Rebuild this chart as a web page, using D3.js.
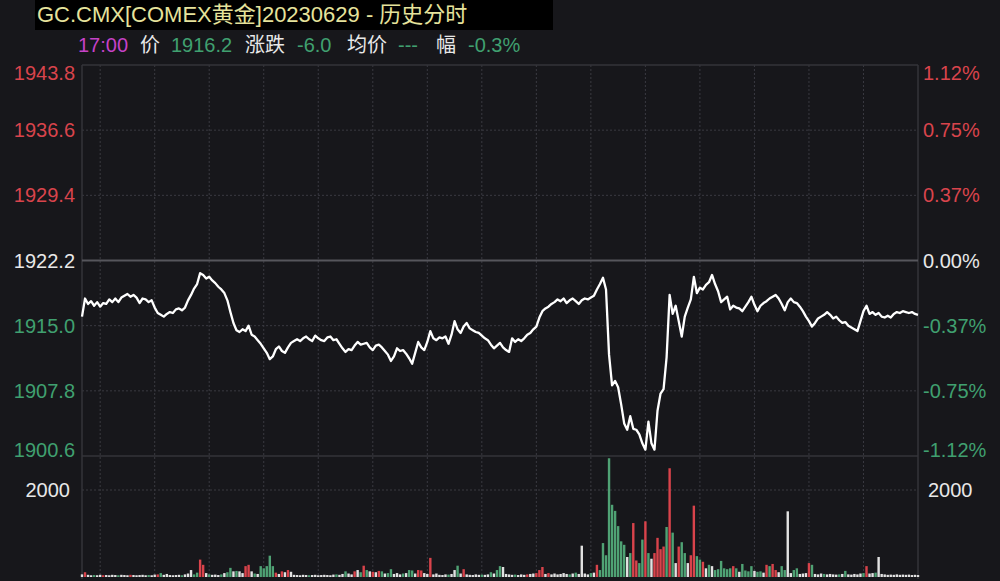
<!DOCTYPE html>
<html>
<head>
<meta charset="utf-8">
<script src="https://cdn.jsdelivr.net/npm/d3@7/dist/d3.min.js"></script>
<style>
  html, body { margin: 0; padding: 0; background: #17171b; }
  svg { display: block; }
  text { font-family: "Liberation Sans", Arial, "Noto Sans CJK SC", sans-serif; }
</style>
</head>
<body>
<svg id="chart" width="1000" height="581"></svg>
<script>
// ---------------- DATA ----------------
const titleText = "GC.CMX[COMEX黄金]20230629 - 历史分时";
const infoLabels = ["17:00", "价", "1916.2", "涨跌", "-6.0", "均价", "---", "幅", "-0.3%"];
const infoKinds  = ["time", "label", "down", "label", "down", "label", "down", "label", "down"];

const prevClose = 1922.2;
const priceTicks = [1943.8, 1936.6, 1929.4, 1922.2, 1915.0, 1907.8, 1900.6];
const pctLabels  = ["1.12%", "0.75%", "0.37%", "0.00%", "-0.37%", "-0.75%", "-1.12%"];
const volTicks = [2000];
const sessionMinutes = 1380;      // 23h session
const stepMinutes = 5;            // one point every 5 minutes
const timeGrid = [30, 120, 210, 300, 390, 480, 570, 660, 750, 840, 930, 1020, 1110, 1200, 1290];

const prices = [
1916.0,1918.0,1917.4,1917.7,1917.2,1917.6,1917.1,1917.5,1917.4,1917.9,1917.6,1918.0,1917.6,1918.1,1918.3,1918.5,1918.2,1918.4,1918.1,1917.5,
1918.0,1917.9,1917.6,1917.8,1917.0,1916.4,1916.2,1916.0,1916.3,1916.5,1916.4,1916.8,1916.9,1916.7,1917.0,1917.8,1918.4,1919.1,1919.6,1920.8,
1920.6,1920.2,1920.4,1920.0,1919.7,1919.3,1919.0,1918.6,1917.8,1916.5,1915.3,1914.5,1914.3,1914.6,1914.4,1915.0,1914.0,1913.8,1913.4,1913.0,
1912.5,1912.0,1911.3,1911.6,1912.4,1912.7,1912.2,1912.0,1912.6,1913.1,1913.3,1913.5,1913.3,1913.6,1913.8,1913.5,1913.3,1913.9,1913.6,1913.4,
1913.3,1913.7,1913.8,1913.4,1913.5,1913.0,1912.5,1912.1,1912.4,1912.3,1912.8,1913.2,1912.9,1913.0,1913.1,1912.6,1912.3,1912.8,1912.9,1912.6,
1912.2,1911.8,1911.1,1911.6,1912.5,1912.2,1912.3,1911.9,1911.4,1910.8,1912.0,1913.2,1912.6,1912.3,1913.2,1914.4,1913.6,1913.4,1913.7,1913.6,
1913.8,1913.0,1914.0,1915.5,1914.6,1914.2,1914.9,1915.3,1914.7,1914.5,1914.3,1914.2,1913.9,1913.6,1913.4,1912.9,1912.5,1912.8,1913.1,1912.6,
1912.3,1912.1,1913.6,1913.2,1913.5,1913.3,1913.6,1914.0,1914.2,1914.6,1914.9,1915.9,1916.6,1916.9,1917.1,1917.4,1917.6,1917.9,1917.7,1918.0,
1917.5,1917.8,1918.0,1917.7,1917.4,1917.8,1918.0,1917.9,1918.1,1918.3,1919.0,1919.6,1920.3,1919.0,1911.8,1908.4,1908.9,1908.2,1906.3,1904.2,
1903.5,1905.0,1903.6,1903.5,1903.0,1902.0,1901.3,1904.4,1902.0,1901.3,1905.6,1907.5,1908.0,1911.5,1918.4,1916.3,1917.2,1915.5,1913.8,1916.0,
1917.0,1917.9,1920.4,1918.6,1919.2,1919.0,1919.5,1919.8,1920.6,1919.6,1918.8,1917.6,1917.9,1918.2,1916.8,1917.2,1917.0,1916.9,1916.6,1917.1,
1917.6,1918.2,1917.3,1916.6,1917.2,1917.5,1917.7,1918.0,1918.2,1918.4,1918.0,1917.4,1916.7,1917.6,1918.0,1917.6,1917.5,1917.1,1916.6,1916.0,
1915.5,1914.9,1915.3,1915.8,1916.0,1916.2,1916.5,1916.2,1915.8,1916.0,1915.6,1915.3,1915.4,1915.0,1914.8,1914.6,1914.4,1915.5,1916.6,1917.2,
1916.3,1916.5,1916.2,1916.4,1916.0,1915.9,1916.1,1915.9,1916.3,1916.5,1916.4,1916.6,1916.5,1916.4,1916.5,1916.3,1916.2
];

const volumes = [
60,110,50,40,45,40,50,40,45,40,50,45,40,50,45,40,50,45,40,45,
50,40,45,40,55,60,90,50,70,45,40,45,50,40,60,80,160,60,100,400,
280,90,60,50,55,45,60,90,110,210,130,140,130,90,250,280,130,80,70,250,
200,250,490,250,100,70,130,110,160,120,50,45,40,50,45,40,45,50,40,45,
50,45,40,55,60,50,70,130,80,60,130,160,110,260,160,130,120,110,140,130,
80,90,180,70,90,60,80,90,160,150,80,160,150,90,70,440,60,80,50,45,
60,55,70,160,260,80,180,60,50,45,60,50,55,50,60,110,80,160,250,230,
70,60,50,55,45,60,50,60,70,80,90,160,230,70,90,60,80,60,70,90,
70,60,80,100,70,720,80,60,90,100,280,160,780,500,2730,1660,1520,1170,820,740,
460,550,1240,380,320,860,1280,550,420,550,900,640,700,1150,2500,1020,320,700,800,550,
320,500,1640,480,400,350,200,280,250,160,180,370,200,180,200,250,200,120,300,150,
130,250,140,120,130,100,280,250,300,160,110,250,160,1510,90,160,200,70,80,90,
320,280,70,60,80,70,60,70,60,55,60,70,140,60,55,70,60,80,90,250,
80,90,100,460,70,60,50,55,50,60,50,55,50,55,45,50,45
];

// r = up (red), g = down (green), w = unchanged (white)
const volColors = (
"wrwwgwwrwwwwgwwwrwww" +
"wwgwwrgwwwwwwgwwwggr" +
"rwgwwwgwggwgwwrrwgwg" +
"ggggrwrwrwwwwwwgwwww" +
"wwwwgwwgwwrwgrgwrwrg" +
"wggwwwgwggwrrwwrwwww" +
"wgwwgwrwwwwwgwwgwggw" +
"wwwgwwwrwwrrrwrwwwww" +
"wgwgwwwwgwrggggggggg" +
"wgrrggrgwrrrrgrgwrgg" +
"wrrggrwgwggggggrgwgg" +
"ggwggwrgrrwggwwggwww" +
"rgwwwgwwwwgwgwwwwwgr" +
"wwgwwwwwwwwwwwwww"
).split("");

// ---------------- STYLE ----------------
const C = {
  bg: "#17171b",
  border: "#34343a",
  grid: "#3a3a41",
  prev: "#56565c",
  red: "#d9444c",
  green: "#40a070",
  white: "#e8e8e8",
  title: "#e6e39c",
  magenta: "#c642c8",
  line: "#ffffff",
  volRed: "#d9434b",
  volGreen: "#4fa274",
  volWhite: "#e2e2e2"
};

const L = 82, R = 918, PT = 65, PB = 456, VB = 577;

const svg = d3.select("#chart");
svg.append("rect").attr("width", 1000).attr("height", 581).attr("fill", C.bg);

// header
svg.append("rect").attr("x", 35).attr("y", 0).attr("width", 518).attr("height", 30).attr("fill", "#000");
svg.append("text").attr("x", 37).attr("y", 22).attr("fill", C.title)
  .attr("font-size", 22).text(titleText);

const infoX = [78, 140, 171, 245, 297, 347, 398, 436, 468];
svg.selectAll("text.info").data(infoLabels).join("text")
  .attr("class", "info")
  .attr("x", (d, i) => infoX[i]).attr("y", 52)
  .attr("font-size", 20)
  .attr("fill", (d, i) => infoKinds[i] === "time" ? C.magenta : infoKinds[i] === "label" ? C.white : C.green)
  .text(d => d);

// scales
const x = d3.scaleLinear().domain([0, sessionMinutes]).range([L, R]);
const y = d3.scaleLinear().domain([priceTicks[priceTicks.length - 1], priceTicks[0]]).range([PB, PT]);
const yv = d3.scaleLinear().domain([0, 2000]).range([VB, 490]);

// vertical dotted grid
svg.append("g").selectAll("line").data(timeGrid).join("line")
  .attr("x1", d => x(d)).attr("x2", d => x(d))
  .attr("y1", PT).attr("y2", VB)
  .attr("stroke", C.grid).attr("stroke-width", 1).attr("stroke-dasharray", "2,2");

// horizontal price grid
svg.append("g").selectAll("line").data(priceTicks.filter(d => d !== prevClose && d !== priceTicks[0] && d !== priceTicks[priceTicks.length-1])).join("line")
  .attr("x1", L).attr("x2", R)
  .attr("y1", d => y(d)).attr("y2", d => y(d))
  .attr("stroke", C.grid).attr("stroke-width", 1).attr("stroke-dasharray", "2,2");

// volume grid
svg.append("g").selectAll("line").data(volTicks).join("line")
  .attr("x1", L).attr("x2", R)
  .attr("y1", d => yv(d)).attr("y2", d => yv(d))
  .attr("stroke", C.grid).attr("stroke-width", 1).attr("stroke-dasharray", "2,2");

// borders
const borders = svg.append("g").attr("stroke", C.border).attr("stroke-width", 1.5);
borders.append("line").attr("x1", L).attr("x2", R).attr("y1", PT).attr("y2", PT);
borders.append("line").attr("x1", L).attr("x2", R).attr("y1", PB).attr("y2", PB);
borders.append("line").attr("x1", L).attr("x2", L).attr("y1", PT).attr("y2", VB + 2);
borders.append("line").attr("x1", R).attr("x2", R).attr("y1", PT).attr("y2", VB + 2);

// prev close line
svg.append("line").attr("x1", L).attr("x2", R)
  .attr("y1", y(prevClose)).attr("y2", y(prevClose))
  .attr("stroke", C.prev).attr("stroke-width", 2);

// axis labels
const tickColor = d => d > prevClose ? C.red : d < prevClose ? C.green : C.white;
const labelY = (d, i) => {
  const yy = y(d);
  if (i === 0) return yy + 8;
  if (i === priceTicks.length - 1) return yy - 6;
  return yy;
};
svg.append("g").selectAll("text").data(priceTicks).join("text")
  .attr("x", 75).attr("y", labelY)
  .attr("text-anchor", "end").attr("dominant-baseline", "central")
  .attr("font-size", 20).attr("fill", tickColor)
  .text(d => d.toFixed(1));
svg.append("g").selectAll("text").data(priceTicks).join("text")
  .attr("x", 923).attr("y", labelY)
  .attr("text-anchor", "start").attr("dominant-baseline", "central")
  .attr("font-size", 20).attr("fill", tickColor)
  .text((d, i) => pctLabels[i]);

svg.append("g").selectAll("text").data(volTicks).join("text")
  .attr("x", 70).attr("y", d => yv(d))
  .attr("text-anchor", "end").attr("dominant-baseline", "central")
  .attr("font-size", 20).attr("fill", C.white).text(d => d);
svg.append("g").selectAll("text").data(volTicks).join("text")
  .attr("x", 928).attr("y", d => yv(d))
  .attr("text-anchor", "start").attr("dominant-baseline", "central")
  .attr("font-size", 20).attr("fill", C.white).text(d => d);

// volume bars
const volColorMap = { r: C.volRed, g: C.volGreen, w: C.volWhite };
svg.append("g").selectAll("rect").data(volumes).join("rect")
  .attr("x", (d, i) => x(i * stepMinutes) - 1.2)
  .attr("width", 2.4)
  .attr("y", d => yv(d))
  .attr("height", d => yv(0) - yv(d))
  .attr("fill", (d, i) => volColorMap[volColors[i]]);

// price line
const line = d3.line()
  .x((d, i) => x(i * stepMinutes))
  .y(d => y(d));
svg.append("path").datum(prices)
  .attr("d", line)
  .attr("fill", "none")
  .attr("stroke", C.line)
  .attr("stroke-width", 2.3)
  .attr("stroke-linejoin", "round");
</script>
</body>
</html>
